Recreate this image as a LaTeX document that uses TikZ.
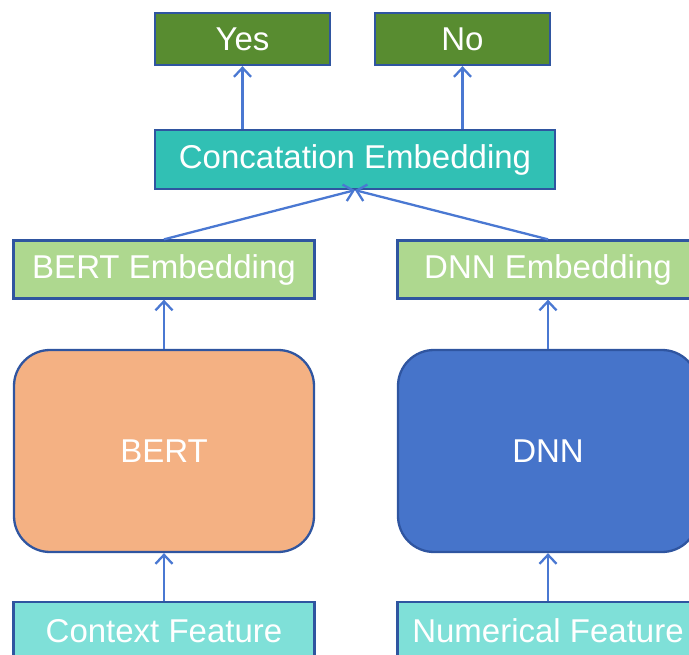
\documentclass[tikz,border=0pt]{standalone}
\usepackage{fontspec}
\setmainfont{Liberation Sans}
\usepackage{tikz}
\definecolor{Edgeblue}{HTML}{2F55A0}
\definecolor{Arrowblue}{HTML}{4A78D2}
\definecolor{Outgreen}{HTML}{588C30}
\definecolor{Concatteal}{HTML}{31C0B4}
\definecolor{Embgreen}{HTML}{AED88F}
\definecolor{Bertorange}{HTML}{F4B183}
\definecolor{Dnnblue}{HTML}{4674CA}
\definecolor{Featcyan}{HTML}{7FE0D8}
\usetikzlibrary{arrows.meta}
\tikzstyle{box} = [
    rectangle,
    text centered,
    align=center,
    text=white,
    font=\fontsize{33}{40}\selectfont,
    draw=Edgeblue,
    line width=2.3pt
]
\tikzstyle{output} = [
    box,
    minimum width=175pt,
    minimum height=52pt,
    fill=Outgreen
]
\tikzstyle{concat} = [
    box,
    minimum width=400pt,
    minimum height=59pt,
    fill=Concatteal
]
\tikzstyle{embed} = [
    box,
    minimum width=301pt,
    minimum height=58pt,
    fill=Embgreen
]
\tikzstyle{model} = [
    box,
    rounded corners=36pt,
    minimum width=300pt,
    minimum height=202pt
]
\tikzstyle{feature} = [
    box,
    minimum width=301pt,
    minimum height=58pt,
    fill=Featcyan
]
\tikzstyle{arrow} = [
    draw=Arrowblue,
    line width=2.3pt,
    -{Straight Barb[length=9pt,width=17pt,line width=2.3pt]}
]

\begin{document}
\begin{tikzpicture}[x=1pt, y=1pt, node distance=180pt]

                \useasboundingbox (0,0) rectangle (689,-655);

                \node (concat)       [concat] at (355,-159.5)                                             {Concatation Embedding};
                \node (yes)          [output, node distance=120.5pt, above of=concat, xshift=-112.5pt]   {Yes};
                \node (no)           [output, node distance=120.5pt, above of=concat, xshift=107.5pt]    {No};
                \node (bertEmb)      [embed, node distance=110pt, below of=concat, xshift=-191pt]         {BERT Embedding};
                \node (dnnEmb)       [embed, node distance=110pt, below of=concat, xshift=193pt]          {DNN Embedding};
                \node (bert)         [model, fill=Bertorange, node distance=181.5pt, below of=bertEmb]    {BERT};
                \node (dnn)          [model, fill=Dnnblue, node distance=181.5pt, below of=dnnEmb]        {DNN};
                \node (context)      [feature, below of=bert]                                             {Context Feature};
                \node (numerical)    [feature, below of=dnn]                                              {Numerical Feature};

                \draw [arrow] (context)        --                                                         (bert);
                \draw [arrow] (numerical)      --                                                         (dnn);
                \draw [arrow] (bert)           --                                                         (bertEmb);
                \draw [arrow] (dnn)            --                                                         (dnnEmb);
                \draw [arrow] (bertEmb.north)  --                                                         (concat.south);
                \draw [arrow] (dnnEmb.north)   --                                                         (concat.south);
                \draw [arrow] (concat.north -| yes) --                                                    (yes);
                \draw [arrow] (concat.north -| no)  --                                                    (no);

            \end{tikzpicture}
\end{document}
